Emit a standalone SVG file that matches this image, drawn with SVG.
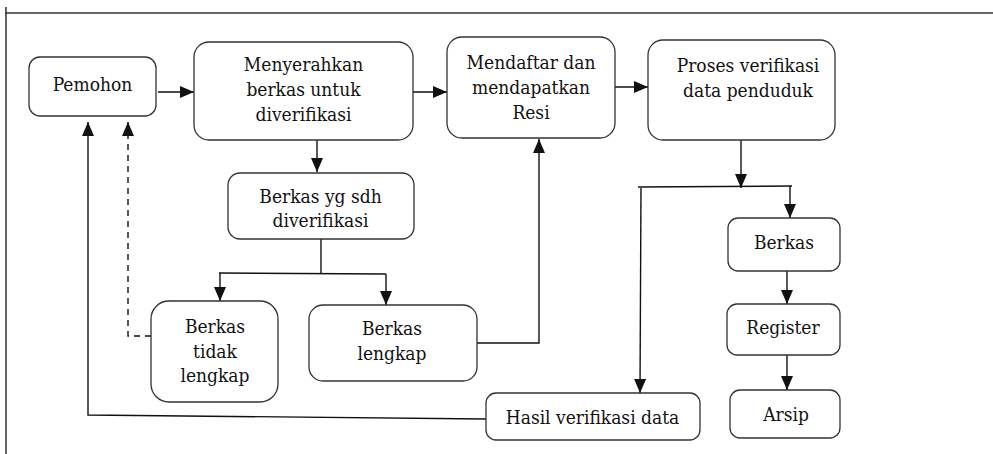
<svg xmlns="http://www.w3.org/2000/svg" width="993" height="454" viewBox="0 0 993 454">
<style>
.box{fill:#fff;stroke:#333;stroke-width:1.3}
.t{font-family:"DejaVu Serif Condensed","DejaVu Serif","Liberation Serif",serif;font-stretch:condensed;font-size:19px;fill:#111;text-anchor:middle}
.c{fill:none;stroke:#111;stroke-width:1.4}
.a{marker-end:url(#ah)}
.d{stroke-dasharray:6 5}
</style>
<defs>
<marker id="ah" markerUnits="userSpaceOnUse" markerWidth="14" markerHeight="12" viewBox="0 0 14 12" refX="14" refY="6" orient="auto">
<path d="M0,0 L14,6 L0,12 z" fill="#111"/>
</marker>
</defs>
<rect width="993" height="454" fill="#fff"/>
<g id="frame">
<path d="M5 13 L993 13" stroke="#333" stroke-width="1.5" fill="none"/>
<path d="M6 7 L6 454" stroke="#333" stroke-width="1.5" fill="none"/>
</g>
<g id="connectors">
<path class="c a" d="M158 92 L194 92"/>
<path class="c a" d="M413 92 L447 92"/>
<path class="c a" d="M615 87 L648 87"/>
<path class="c a" d="M317 140 L317 172"/>
<path class="c" d="M321 239 L321 274"/>
<path class="c" d="M219 273 L386 274"/>
<path class="c a" d="M220 273 L220 301"/>
<path class="c a" d="M386 274 L386 305"/>
<path class="c a" d="M477 343 L539 343 L539 139"/>
<path class="c a" d="M741 140 L741 188"/>
<path class="c" d="M638 187 L792 186"/>
<path class="c a" d="M790 186 L790 218"/>
<path class="c a" d="M641 188 L640 393"/>
<path class="c a" d="M787 271 L787 304"/>
<path class="c a" d="M787 355 L787 390"/>
<path class="c a" d="M486 419 L88 415 L88 122"/>
<path class="c a d" d="M151 336 L128 336 L128 122"/>
</g>
<g id="pemohon">
<rect class="box" x="29" y="57" width="127" height="59" rx="11"/>
<text class="t" x="92.5" y="91">Pemohon</text>
</g>
<g id="menyerahkan">
<rect class="box" x="194" y="42" width="219" height="98" rx="15"/>
<text class="t" x="303.5" y="71">Menyerahkan</text>
<text class="t" x="303.5" y="96">berkas untuk</text>
<text class="t" x="303.5" y="121">diverifikasi</text>
</g>
<g id="mendaftar">
<rect class="box" x="447" y="37" width="168" height="101" rx="15"/>
<text class="t" x="531" y="69">Mendaftar dan</text>
<text class="t" x="531" y="94">mendapatkan</text>
<text class="t" x="531" y="119">Resi</text>
</g>
<g id="proses">
<rect class="box" x="648" y="40" width="187" height="100" rx="15"/>
<text class="t" x="748" y="72">Proses verifikasi</text>
<text class="t" x="748" y="97">data penduduk</text>
</g>
<g id="berkas-sdh">
<rect class="box" x="228" y="173" width="186" height="66" rx="12"/>
<text class="t" x="320.5" y="203">Berkas yg sdh</text>
<text class="t" x="320.5" y="227">diverifikasi</text>
</g>
<g id="berkas-tidak-lengkap">
<rect class="box" x="151" y="301" width="127" height="101" rx="18"/>
<text class="t" x="215" y="333">Berkas</text>
<text class="t" x="215" y="358">tidak</text>
<text class="t" x="215" y="382">lengkap</text>
</g>
<g id="berkas-lengkap">
<rect class="box" x="309" y="305" width="168" height="76" rx="14"/>
<text class="t" x="392" y="335">Berkas</text>
<text class="t" x="392" y="360">lengkap</text>
</g>
<g id="hasil">
<rect class="box" x="486" y="393" width="214" height="47" rx="10"/>
<text class="t" x="592.5" y="424">Hasil verifikasi data</text>
</g>
<g id="berkas">
<rect class="box" x="728" y="218" width="112" height="53" rx="10"/>
<text class="t" x="784" y="249">Berkas</text>
</g>
<g id="register">
<rect class="box" x="727" y="304" width="113" height="51" rx="10"/>
<text class="t" x="783" y="334">Register</text>
</g>
<g id="arsip">
<rect class="box" x="730" y="390" width="110" height="48" rx="10"/>
<text class="t" x="786" y="421">Arsip</text>
</g>
</svg>
